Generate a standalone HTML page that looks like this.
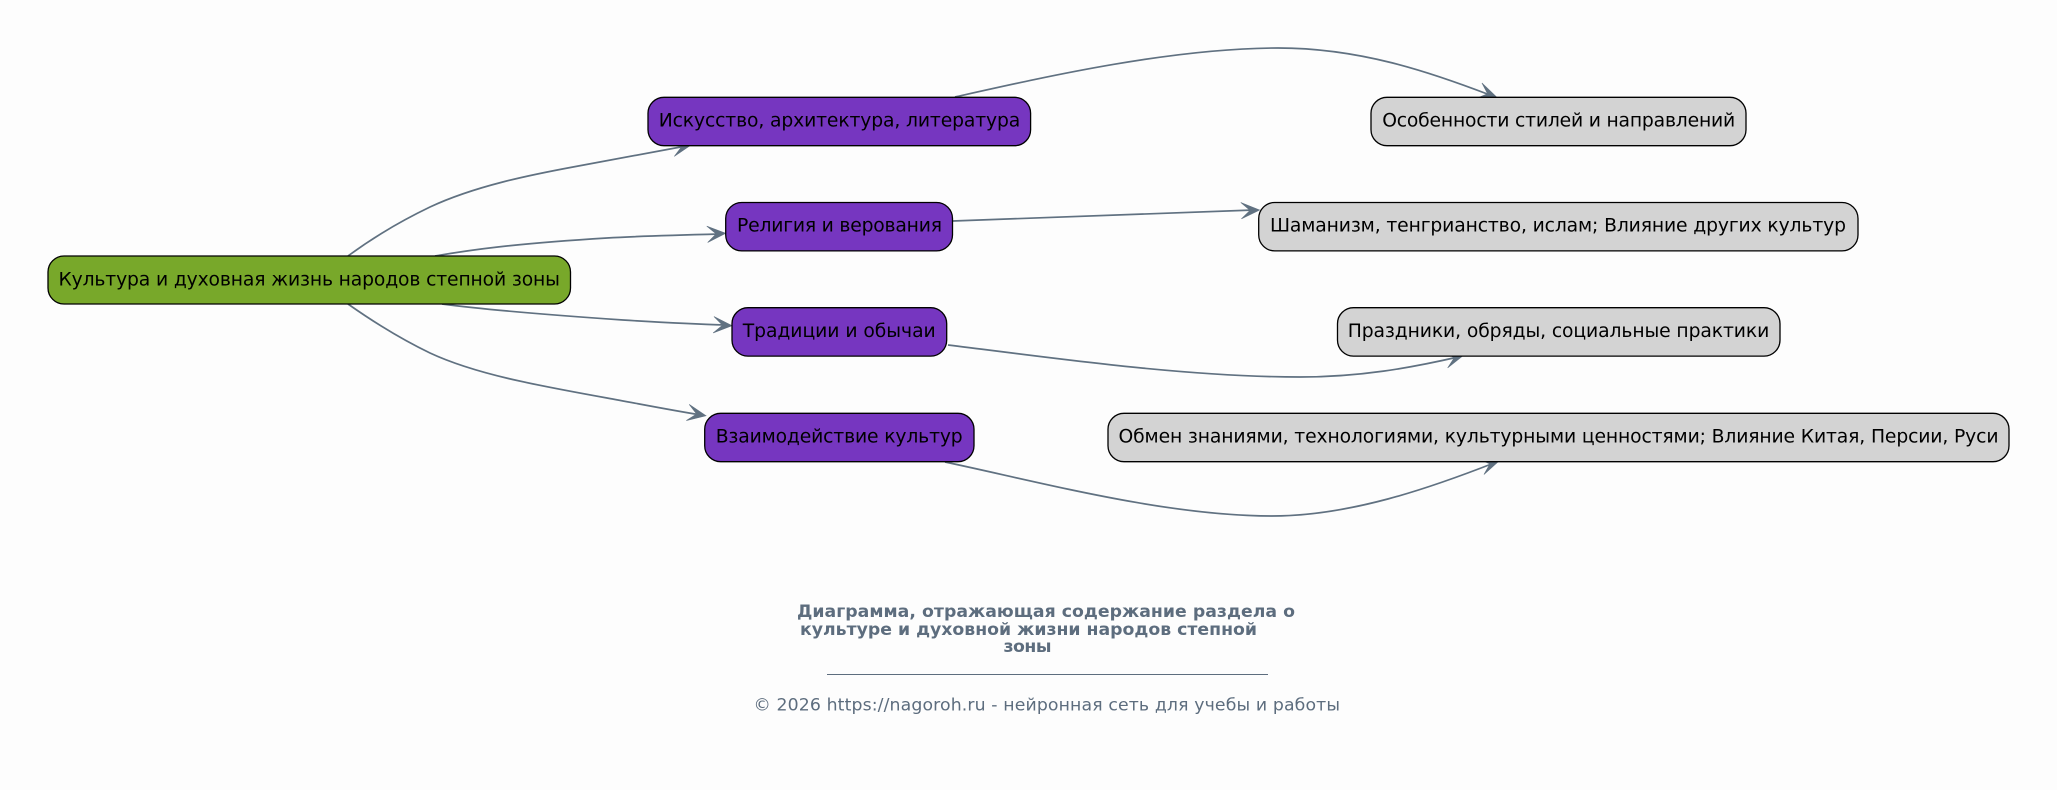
<!DOCTYPE html>
<html><head><meta charset="utf-8"><style>
html,body{margin:0;padding:0;background:#fdfdfd}
svg{display:block}
.n{font-family:"DejaVu Sans",sans-serif;font-size:18.75px;fill:#000;text-anchor:middle}
.t{font-family:"DejaVu Sans",sans-serif;font-size:17.3px;font-weight:bold;fill:#5d6d7e}
.f{font-family:"DejaVu Sans",sans-serif;font-size:17.3px;fill:#5d6d7e}
.e{fill:none;stroke:#607181;stroke-width:1.7}
.a{fill:#607181;stroke:#607181;stroke-width:.6;stroke-linejoin:miter}
rect{stroke:#000;stroke-width:1.3}
</style></head><body>
<svg width="2057" height="790" viewBox="0 0 2057 790" xmlns="http://www.w3.org/2000/svg">
<rect x="0" y="0" width="2057" height="790" fill="#fdfdfd" stroke="none" style="stroke:none"/>
<path class="e" d="M348 256C375 236 405 219 430 207C475 186 530 175 573 167C615 159 655 152 686 146"/>
<path class="e" d="M435 256C470 250 510 244 607 238C640 236 680 235 720 234"/>
<path class="e" d="M442 304C480 309 550 315 623 320C655 322 690 324 726 325"/>
<path class="e" d="M348 304C375 323 405 341 430 353C475 374 535 385 607 398C640 404 670 410 701 415"/>
<path class="e" d="M955 97C1040 78 1170 48 1278 48C1360 48 1430 72 1490 95"/>
<path class="e" d="M953 221L1254 210"/>
<path class="e" d="M948 345C1040 356 1180 377 1300 377C1360 377 1410 368 1458 357"/>
<path class="e" d="M945 462C1040 482 1165 516 1272 516C1350 516 1430 488 1494 463"/>
<polygon class="a" points="0,0 -18.5,-8.2 -9.5,0 -18.5,8.2" transform="translate(691 145) rotate(-10.3)"/>
<polygon class="a" points="0,0 -18.5,-8.2 -9.5,0 -18.5,8.2" transform="translate(725.7 233.3) rotate(-3.2)"/>
<polygon class="a" points="0,0 -18.5,-8.2 -9.5,0 -18.5,8.2" transform="translate(732 325.7) rotate(2.9)"/>
<polygon class="a" points="0,0 -18.5,-8.2 -9.5,0 -18.5,8.2" transform="translate(706 415.7) rotate(10)"/>
<polygon class="a" points="0,0 -18.5,-8.2 -9.5,0 -18.5,8.2" transform="translate(1496.5 97) rotate(20)"/>
<polygon class="a" points="0,0 -18.5,-8.2 -9.5,0 -18.5,8.2" transform="translate(1259.6 210) rotate(-2.1)"/>
<polygon class="a" points="0,0 -18.5,-8.2 -9.5,0 -18.5,8.2" transform="translate(1463.5 355.3) rotate(-14.6)"/>
<polygon class="a" points="0,0 -18.5,-8.2 -9.5,0 -18.5,8.2" transform="translate(1499 461) rotate(-18)"/>
<rect x="48" y="256" width="522.5" height="48" rx="16" fill="#78a82a"/>
<rect x="648" y="97.3" width="382.6" height="48.4" rx="16" fill="#7636c0"/>
<rect x="725.7" y="202.5" width="226.8" height="48.4" rx="16" fill="#7636c0"/>
<rect x="732" y="307.7" width="214.7" height="48.4" rx="16" fill="#7636c0"/>
<rect x="704.7" y="413.3" width="269.3" height="48.4" rx="16" fill="#7636c0"/>
<rect x="1371" y="97.3" width="375" height="48.4" rx="16" fill="#d3d3d3"/>
<rect x="1258.7" y="202.5" width="599.3" height="48.4" rx="16" fill="#d3d3d3"/>
<rect x="1337.5" y="307.7" width="442.5" height="48.4" rx="16" fill="#d3d3d3"/>
<rect x="1108" y="413.3" width="901" height="48.4" rx="16" fill="#d3d3d3"/>
<text class="n" x="309.2" y="285.5" textLength="501.5">Культура и духовная жизнь народов степной зоны</text>
<text class="n" x="839.5" y="126.3" textLength="361.5">Искусство, архитектура, литература</text>
<text class="n" x="839.5" y="231.5" textLength="205">Религия и верования</text>
<text class="n" x="839.2" y="337" textLength="193">Традиции и обычаи</text>
<text class="n" x="839.2" y="442.3" textLength="247">Взаимодействие культур</text>
<text class="n" x="1558.7" y="126.3" textLength="353">Особенности стилей и направлений</text>
<text class="n" x="1558" y="231.5" textLength="576">Шаманизм, тенгрианство, ислам; Влияние других культур</text>
<text class="n" x="1558.5" y="337" textLength="421.5">Праздники, обряды, социальные практики</text>
<text class="n" x="1558.5" y="442.3" textLength="880">Обмен знаниями, технологиями, культурными ценностями; Влияние Китая, Персии, Руси</text>
<text class="t" x="797" y="617" textLength="498">Диаграмма, отражающая содержание раздела о</text>
<text class="t" x="800" y="635" textLength="457">культуре и духовной жизни народов степной</text>
<text class="t" x="1003.5" y="652" textLength="48">зоны</text>
<line x1="827" y1="674.5" x2="1268" y2="674.5" stroke="#5d6d7e" stroke-width="1" style="stroke:#5d6d7e"/>
<text class="f" x="753.5" y="710.5" textLength="586.5">© 2026 https://nagoroh.ru - нейронная сеть для учебы и работы</text>
</svg>
</body></html>
